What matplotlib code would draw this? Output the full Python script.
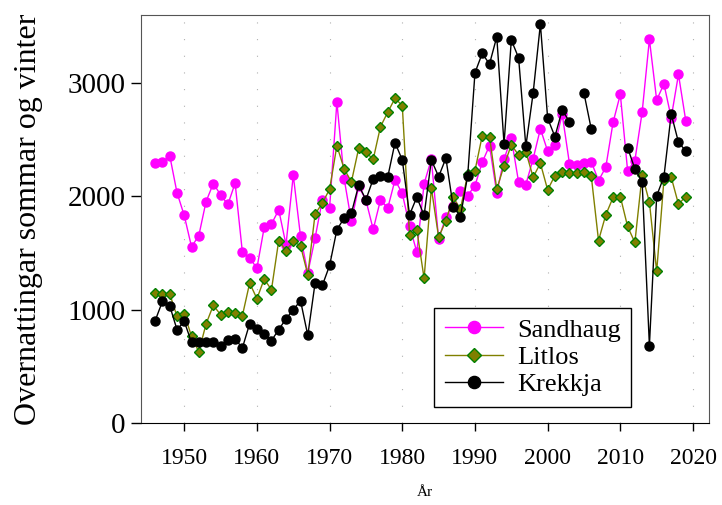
import matplotlib
matplotlib.use('Agg')
import matplotlib.pyplot as plt
import numpy as np

# ----------------------- #
# Data
# ----------------------- #
years = list(range(1946, 2020))

sandhaug = [2295, 2300, 2360, 2033, 1831, 1555, 1652, 1954, 2113, 2013,
            1928, 2116, 1506, 1455, 1367, 1725, 1755, 1881, 1573, 2186,
            1646, 1323, 1632, 1969, 1900, 2832, 2156, 1778, 2090, 1965,
            1708, 1969, 1896, 2145, 2025, 1738, 1508, 2112, 2327, 1623,
            1817, 1919, 2051, 2007, 2095, 2301, 2447, 2028, 2330, 2513,
            2127, 2104, 2330, 2596, 2399, 2456, 2725, 2289, 2277, 2292,
            2306, 2139, 2257, 2652, 2900, 2227, 2315, 2742, 3385, 2850,
            2991, 2694, 3076, 2668]

litlos = [1147, 1138, 1141, 941, 965, 765, 627, 874, 1038, 956,
          980, 971, 947, 1235, 1097, 1270, 1176, 1610, 1522, 1602,
          1564, 1308, 1843, 1940, 2063, 2447, 2242, 2128, 2424, 2389,
          2327, 2615, 2742, 2865, 2800, 1655, 1705, 1276, 2072, 1640,
          1784, 1993, 1887, 2195, 2227, 2535, 2527, 2063, 2271, 2454,
          2365, 2395, 2169, 2292, 2057, 2183, 2211, 2209, 2204, 2218,
          2180, 1610, 1837, 1990, 1998, 1734, 1593, 2189, 1949, 1337,
          2145, 2169, 1931, 1998]

nan = np.nan
krekkja = [903, 1073, 1035, 824, 897, 712, 712, 712, 712, 677,
           736, 742, 662, 877, 833, 789, 727, 824, 919, 1000,
           1079, 773, 1235, 1214, 1390, 1705, 1808, 1852, 2099, 1970,
           2154, 2178, 2171, 2474, 2321, 1837, 1993, 1831, 2321, 2174,
           2336, 1910, 1822, 2183, 3090, 3261, 3167, 3408, 2462, 3379,
           3223, 2442, 2909, 3520, 2689, 2527, 2762, 2659, nan, 2909,
           2594, nan, nan, nan, nan, 2430, 2242, 2130, 683, 2004,
           2174, 2727, 2477, 2401]

series_names = ['Sandhaug', 'Litlos', 'Krekkja']
xticks = [1950, 1960, 1970, 1980, 1990, 2000, 2010, 2020]
yticks = [0, 1000, 2000, 3000]

# ----------------------- #
# Figure
# ----------------------- #
plt.rcParams['font.family'] = ['Liberation Serif', 'DejaVu Serif']

figureWidth = 7.22
figureHeight = 5.05
fig = plt.figure(figsize=(figureWidth, figureHeight), dpi=100)
ax = fig.add_axes([141/722, (505-423)/505, (709-141)/722, (423-15)/505])

# vertical dotted grid at the year ticks
for x in xticks:
    ax.axvline(x, color='#b0b0b0', linewidth=0.8, linestyle=(0, (1, 14)), zorder=0)

ax.plot(years, sandhaug, color='#ff00ff', linewidth=1, marker='o',
        markersize=6.5, markerfacecolor='#ff00ff', markeredgecolor='#ff00ff',
        label=series_names[0], zorder=2)
ax.plot(years, litlos, color='#808000', linewidth=1, marker='D',
        markersize=5.5, markerfacecolor='#808000', markeredgecolor='#008000',
        markeredgewidth=1, label=series_names[1], zorder=3)
ax.plot(years, krekkja, color='black', linewidth=1, marker='o',
        markersize=6.5, markerfacecolor='black', markeredgecolor='black',
        label=series_names[2], zorder=4)

ax.set_xlim(1944.05, 2022.2)
ax.set_ylim(0, 3600)
ax.set_xticks(xticks)
ax.set_yticks(yticks)
ax.tick_params(axis='x', labelsize=17, direction='out', length=6, width=1, pad=12)
ax.tick_params(axis='y', labelsize=21, direction='out', length=7, width=1, pad=4)

for side in ['top', 'right', 'left']:
    ax.spines[side].set_color('#555555')
ax.spines['bottom'].set_color('black')

ax.set_ylabel('Overnattingar sommar og vinter', fontsize=23, labelpad=18)
ax.set_xlabel('År', fontsize=11, labelpad=12)

leg = ax.legend(loc='lower left', bbox_to_anchor=((434-141)/568, (423-407)/408,
                (631-434)/568, (407-292)/408), mode='expand', borderaxespad=0,
                fontsize=19, fancybox=False, framealpha=1, edgecolor='black',
                handlelength=2.2, handletextpad=0.55, borderpad=0.4,
                labelspacing=0.15, markerscale=1.35)
leg.get_frame().set_linewidth(1)

plt.savefig('out.png', dpi=100)
